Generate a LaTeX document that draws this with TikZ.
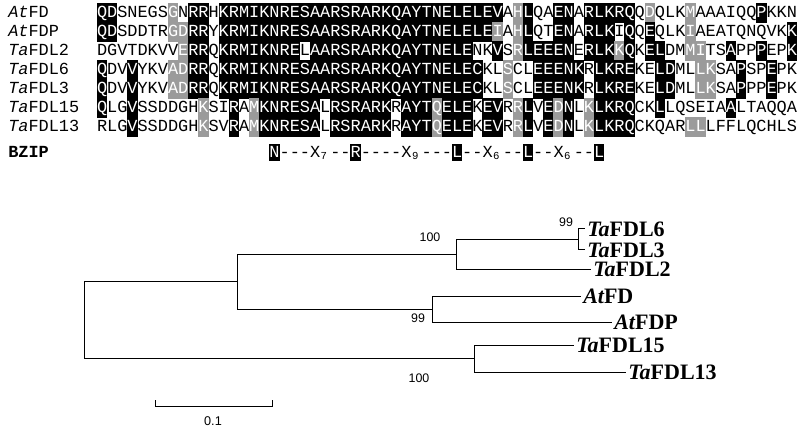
\documentclass[tikz,border=0pt]{standalone}
\usepackage{fontspec}
\setmainfont{Liberation Serif}
\newfontfamily\seqfont{Liberation Mono}
\newfontfamily\numfont{Liberation Sans}
\definecolor{shgray}{RGB}{155,155,155}
\newcount\cidx
\def\XO{97}
\def\CW{10.145}
\tikzset{
  seq/.style={inner sep=0pt, anchor=base, font=\seqfont\fontsize{12.68}{14}\selectfont},
  seqlab/.style={inner sep=0pt, anchor=base west, font=\seqfont\fontsize{12.68}{14}\selectfont},
  subdig/.style={inner sep=0pt, anchor=base west, font=\seqfont\fontsize{8}{9}\selectfont},
  treelab/.style={inner xsep=2.25pt, inner ysep=0pt, anchor=west, font=\bfseries\fontsize{16.5}{18}\selectfont},
  boot/.style={inner sep=0pt, font=\numfont\fontsize{9.3}{10}\selectfont},
  branch/.style={line width=0.75pt, line join=miter, line cap=rect},
}
\def\drawcell#1#2{%
  \def\mytc{black}%
  \ifx K#2\fill[black] ({\XO+\CW*\the\cidx-0.2},{\myrowy-9.7}) rectangle ++({\CW+0.4},19.4);\def\mytc{white}\fi
  \ifx G#2\fill[shgray] ({\XO+\CW*\the\cidx-0.2},{\myrowy-9.7}) rectangle ++({\CW+0.4},19.4);\def\mytc{white}\fi
  \node[seq,text=\mytc] (r\myrowid c\the\cidx) at ({\XO+\CW*(\the\cidx+0.5)},{\myrowy+4.8}) {#1};}
\def\rowloop#1#2\rowstop#3#4\rowstop{%
  \ifx.#1\let\mynext\relax\else
    \drawcell{#1}{#3}%
    \global\advance\cidx by 1\relax
    \def\mynext{\rowloop#2\rowstop#4\rowstop}%
  \fi\mynext}
\def\seqrow#1#2#3#4#5{%
  \def\myrowid{#1}\def\myrowy{#2}\global\cidx=0\relax
  \node[seqlab] (lab#1) at (8,{#2+4.8}) {#3};
  \rowloop#4.\rowstop#5.\rowstop}
\begin{document}
\begin{tikzpicture}[x=0.75pt,y=-0.75pt]
\fill[white] (0,0) rectangle (800,431);
\useasboundingbox (0,0) rectangle (800,431);
% alignment
\seqrow{1}{13}{{\itshape At}FD}{QDSNEGSGNRRHKRMIKNRESAARSRARKQAYTNELELEVAHLQAENARLKRQQDQLKMAAAIQQPKKN}{KKWWWWWGWKKWKKKKKKKKKKKKKKKKKKKKKKKKKKKKWGKWWKKWKKKKKWGWWWGWWWWWWKWWW}
\seqrow{2}{32}{{\itshape At}FDP}{QDSDDTRGDRRYKRMIKNRESAARSRARKQAYTNELELEIAHLQTENARLKIQQEQLKIAEATQNQVKK}{KKWWWWWGGKKWKKKKKKKKKKKKKKKKKKKKKKKKKKKGWGKWWKKWKKKWKWKWWWGWWWWWWWWWK}
\seqrow{3}{51}{{\itshape Ta}FDL2}{DGVTDKVVERRQKRMIKNRELAARSRARKQAYTNELENKVSRLEEENERLKKQKELDMMITSAPPPEPK}{WWWWWWWWGKKWKKKKKKKKWKKKKKKKKKKKKKKKKWWKWGKKKKKWKKKGKWKKWWGGWWKWWKWWK}
\seqrow{4}{70}{{\itshape Ta}FDL6}{QDVVYKVADRRQKRMIKNRESAARSRARKQAYTNELECKLSCLEEENKRLKREKELDMLLKSAPSPEPK}{KWWKWWWGGKKWKKKKKKKKKKKKKKKKKKKKKKKKKKWWGWWKKKKKWKKKKWWKKWWGGWWKWWKWWK}
\seqrow{5}{89}{{\itshape Ta}FDL3}{QDVVYKVADRRQKRMIKNRESAARSRARKQAYTNELECKLSCLEEENKRLKREKELDMLLKSAPPPEPK}{KWWKWWWGGKKWKKKKKKKKKKKKKKKKKKKKKKKKKKWWGWWKKKKKWKKKKWWKKWWGGWWKWWKWWK}
\seqrow{6}{108}{{\itshape Ta}FDL15}{QLGVSSDDGHKSIRAMKNRESALRSRARKRAYTQELEKEVRRLVEDNLKLKRQCKLLQSEIAALTAQQA}{KWWKWWWWWWGWWKWGKKKKKKWKKKKKKWKKKGKKKWKKWGKWKGKWGKKKKWWKWWWWWWKWWWWWW}
\seqrow{7}{127}{{\itshape Ta}FDL13}{RLGVSSDDGHKSVRAMKNRESALRSRARKRAYTQELEKEVRRLVEDNLKLKRQCKQARLLLFFLQCHLS}{WWWKWWWWWWGWWKWGKKKKKKWKKKKKKWKKKGKKKWKKWGKWKGKWGKKKKWWWWWGGWWWWWWWWW}
% bZIP consensus row
\def\bzy{152.5}
\node[seqlab,font=\seqfont\bfseries\fontsize{12.68}{14}\selectfont] (bziplab) at (8,{\bzy+4.8}) {BZIP};
\foreach \c/\l in {17/N,25/R,35/L,42/L,49/L}{
  \fill[black] ({\XO+\CW*\c-0.2},{\bzy-8.7}) rectangle ++({\CW+0.4},17.4);
  \node[seq,text=white] (bk\c) at ({\XO+\CW*(\c+0.5)},{\bzy+4.8}) {\l};
}
\foreach \c in {18,19,20,23,24,26,27,28,29,32,33,34,36,37,40,41,43,44,47,48}{
  \node[seq] (bd\c) at ({\XO+\CW*(\c+0.5)},{\bzy+4.8}) {-};
}
\foreach \c/\s in {21/7,30/9,38/6,45/6}{
  \node[seq] (bx\c) at ({\XO+\CW*(\c+0.5)},{\bzy+4.8}) {X};
  \node[subdig,yshift=-2pt] (bs\c) at (bx\c.base east) {\s};
}
% tree
\coordinate (root) at (84,320);
\coordinate (n1) at (237,281.5);
\coordinate (n2) at (456,254.5);
\coordinate (n3) at (578,239.5);
\coordinate (n4) at (432,309);
\coordinate (n5) at (474,358.5);
\node[treelab] (t6) at (584,229) {{\itshape Ta}FDL6};
\node[treelab] (t3) at (584,250) {{\itshape Ta}FDL3};
\node[treelab] (t2) at (590,269) {{\itshape Ta}FDL2};
\node[treelab] (ta) at (580,296) {{\itshape At}FD};
\node[treelab] (tp) at (611,322) {{\itshape At}FDP};
\node[treelab] (t15) at (573,345) {{\itshape Ta}FDL15};
\node[treelab] (t13) at (625,372) {{\itshape Ta}FDL13};
\draw[branch] (root) |- (n1);
\draw[branch] (root) |- (n5);
\draw[branch] (n1) |- (n2);
\draw[branch] (n1) |- (n4);
\draw[branch] (n2) |- (n3);
\draw[branch] (n2) |- (t2.west);
\draw[branch] (n3) |- (t6.west);
\draw[branch] (n3) |- (t3.west);
\draw[branch] (n4) |- (ta.west);
\draw[branch] (n4) |- (tp.west);
\draw[branch] (n5) |- (t15.west);
\draw[branch] (n5) |- (t13.west);
\node[boot] (b3) at (566,222) {99};
\node[boot] (b2) at (430,237) {100};
\node[boot] (b4) at (418,318) {99};
\node[boot] (b5) at (419,378) {100};
% scale bar
\coordinate (s1) at (155,406);
\coordinate (s2) at (272,406);
\draw[line width=0.75pt] ([yshift=4.5pt]s1) -- (s1) -- (s2) -- ([yshift=4.5pt]s2);
\node[boot,font=\numfont\fontsize{9.5}{10}\selectfont] (sl) at (213,421) {0.1};
\end{tikzpicture}
\end{document}
